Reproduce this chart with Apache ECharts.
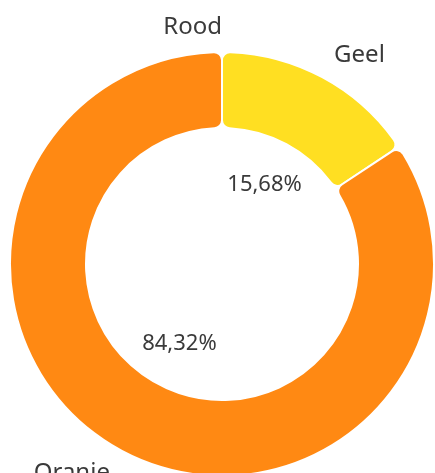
<!DOCTYPE html>
<html>
<head>
<meta charset="utf-8">
<script src="https://cdn.jsdelivr.net/npm/echarts@6/dist/echarts.min.js"></script>
<style>html,body{margin:0;padding:0;background:#fff}#c{width:435px;height:473px}</style>
</head>
<body>
<div id="c"></div>
<script>
const categories = ['Rood', 'Geel', 'Oranje'];
const values = [0, 15.68, 84.32];
const colors = ['#E8352B', '#FFDF22', '#FF8913'];

const chart = echarts.init(document.getElementById('c'));
const fmtPct = p => p.value === 0 ? '' : p.percent.toFixed(2).replace('.', ',') + '%';

const ringData = categories.map((n, i) => ({
  name: n, value: values[i],
  itemStyle: { color: colors[i] },
  label: { align: (i === 1) ? 'left' : 'right' }
}));
const innerData = categories.map((n, i) => ({ name: n, value: values[i] }));

chart.setOption({
  animation: false,
  series: [
    {
      type: 'pie',
      center: [222, 264],
      radius: [136, 212],
      startAngle: 90,
      clockwise: true,
      avoidLabelOverlap: false,
      silent: true,
      itemStyle: { borderColor: '#fff', borderWidth: 2, borderRadius: 8 },
      label: {
        show: true, position: 'outside', formatter: '{b}',
        fontFamily: 'Noto Sans', fontSize: 24, color: '#3a3a3a',
        distanceToLabelLine: 0
      },
      labelLine: { show: false, length: 25, length2: 0 },
      data: ringData
    },
    {
      type: 'pie',
      center: [222, 264],
      radius: [0, 174],
      startAngle: 90,
      clockwise: true,
      silent: true,
      itemStyle: { color: 'rgba(0,0,0,0)' },
      label: {
        show: true, position: 'inside', formatter: fmtPct,
        fontFamily: 'Noto Sans', fontSize: 22, color: '#3a3a3a'
      },
      labelLine: { show: false },
      data: innerData
    }
  ]
});
</script>
</body>
</html>
